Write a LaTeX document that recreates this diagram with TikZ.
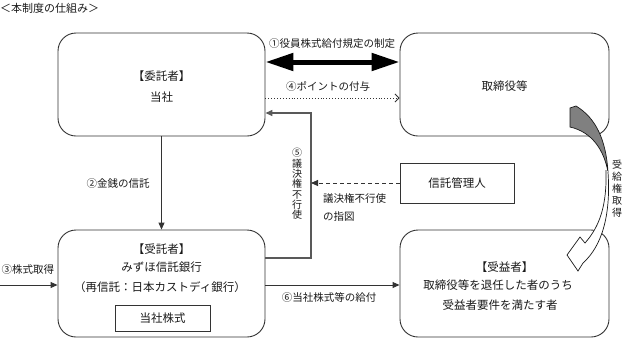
\documentclass[tikz,border=0pt]{standalone}
\usepackage{fontspec}
\setmainfont{Noto Sans CJK JP}
\usetikzlibrary{arrows.meta}
\begin{document}
\begin{tikzpicture}[x=1pt,y=-1pt,
  box/.style={draw=black!80, line width=0.9pt, rounded corners=18pt, minimum width=207pt, minimum height=103pt, inner sep=0pt},
  sbox/.style={draw=black!80, line width=0.9pt, inner sep=0pt},
  txt/.style={font=\fontsize{11.5}{13}\selectfont, inner sep=0pt, text=black!90},
  lbl/.style={font=\fontsize{10.5}{12}\selectfont, inner sep=0pt, text=black!90},
  conn/.style={draw=black!80, line width=0.9pt},
  tip/.style={-{Triangle[length=7pt,width=6pt]}}
]
\useasboundingbox (0,0) rectangle (624,341);

\node[lbl, anchor=west, font=\fontsize{11}{12}\selectfont] (title) at (0,8) {＜本制度の仕組み＞};

% boxes
\node[box] (A) at (161.5,84.5) {};
\node[box, minimum width=209pt] (B) at (504.5,84.5) {};
\node[box, minimum height=107pt] (C) at (161.5,283.5) {};
\node[box, minimum width=209pt, minimum height=107pt] (D) at (504.5,283.5) {};
\node[sbox, minimum width=95pt, minimum height=26pt] (S) at (162.5,318.5) {};
\node[sbox, minimum width=114pt, minimum height=40pt] (M) at (457,183) {};

% box texts
\node[txt] (At1) at (161.5,76) {【委託者】};
\node[txt] (At2) at (161.5,97) {当社};
\node[txt] (Bt) at (504.5,86) {取締役等};
\node[txt] (Ct1) at (161.5,249) {【受託者】};
\node[txt] (Ct2) at (161.5,267) {みずほ信託銀行};
\node[txt] (Ct3) at (160,287) {（再信託：日本カストディ銀行）};
\node[txt] (St) at (S) {当社株式};
\node[txt] (Mt) at (M) {信託管理人};
\node[txt] (Dt1) at (504.5,267) {【受益者】};
\node[txt] (Dt2) at (498,285) {取締役等を退任した者のうち};
\node[txt] (Dt3) at (500,305) {受益者要件を満たす者};

% connectors
\draw[line width=5pt, draw=black, {Triangle[length=28pt,width=17pt]}-{Triangle[length=28pt,width=17pt]}] ([yshift=22.5pt]A.east) -- ([yshift=22.5pt]B.west);
\draw[conn, dotted, line width=0.8pt, -{Straight Barb[length=4pt,width=8pt]}] ([yshift=-13.5pt]A.east) -- ([yshift=-13.5pt]B.west);

\coordinate (k1) at (311,258);
\coordinate (k2) at (311,113);
\draw[conn, draw=black!65, line width=1.4pt, tip] (C.east |- k1) -- (k1) -- (k2) -- (A.east |- k2);
\draw[conn, dash pattern=on 4pt off 3pt, tip] (M.west) -- (M.west -| k1);

\draw[conn, tip] (A.south) -- (C.north);
\coordinate (s3) at (0,285);
\draw[conn, tip] (s3) -- (s3 -| C.west);
\draw[conn, tip] ([yshift=-1.5pt]C.east) -- ([yshift=-1.5pt]D.west);

% labels
\node[lbl] (L1) at (332,44) {①役員株式給付規定の制定};
\node[lbl] (L4) at (328,86) {④ポイントの付与};
\node[lbl, align=center, font=\fontsize{10}{10.3}\selectfont] (L5) at (297,184) {⑤\\議\\決\\権\\不\\行\\使};
\node[lbl] (L2) at (118,184) {②金銭の信託};
\node[lbl] (L3) at (28,270) {③株式取得};
\node[lbl] (L6) at (329,298) {⑥当社株式等の給付};
\node[lbl, anchor=west] (Lm1) at (323,199) {議決権不行使};
\node[lbl, anchor=west] (Lm2) at (323,217) {の指図};
\node[lbl, align=center, font=\fontsize{10}{12}\selectfont] (Lr) at (617,189) {受\\給\\権\\取\\得};

% curved arrow (受給権取得)
\filldraw[fill=black!50, draw=black!90, line width=0.7pt] (570,108) -- (576,106) .. controls (596,118) and (606,140) .. (608,172) .. controls (604,150) and (592,132) .. (570,127) -- cycle;
\filldraw[fill=white, draw=black!90, line width=0.7pt] (606,170) .. controls (607,205) and (600,226) .. (585,243) -- (580,237) -- (567,255) -- (578,271) -- (583,263) .. controls (602,246) and (611,215) .. (608,172);
\end{tikzpicture}
\end{document}
